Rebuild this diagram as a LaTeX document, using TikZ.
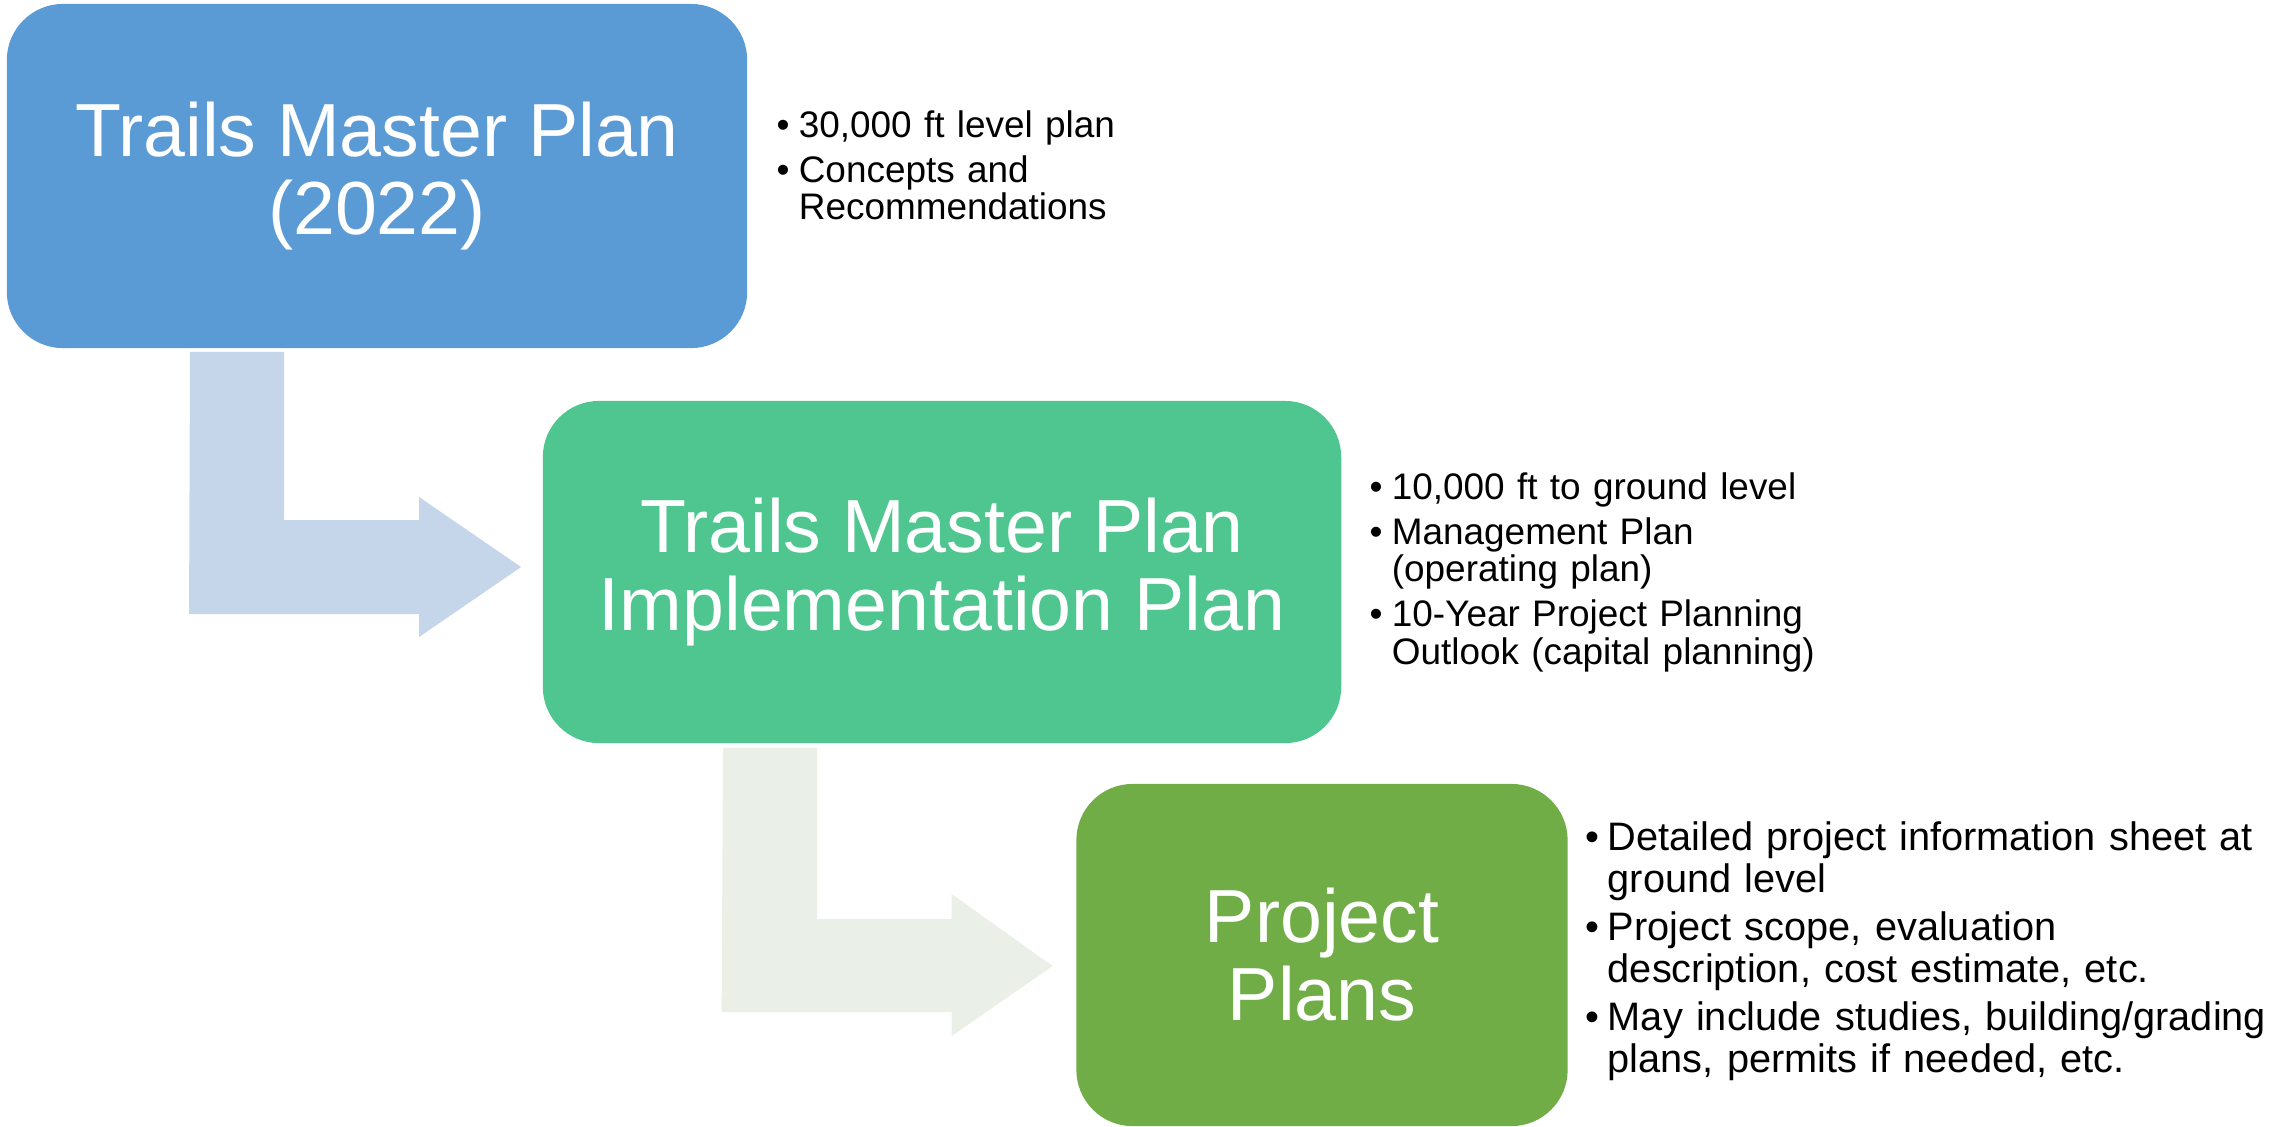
\documentclass[tikz,border=0pt]{standalone}
\usepackage{fontspec}
\setmainfont{Liberation Sans}
\usetikzlibrary{calc}

\definecolor{boxblue}{HTML}{5B9BD5}
\definecolor{boxteal}{HTML}{4FC68F}
\definecolor{boxgreen}{HTML}{70AD47}
\definecolor{arrowblue}{HTML}{C5D5EA}
\definecolor{arrowgrey}{HTML}{EAEFE7}

% Aufzaehlungspunkt mit haengendem Einzug
\newcommand{\bul}[1]{\hangindent=6.3pt\hangafter=1\noindent\makebox[6.3pt][l]{\textbullet}#1\par}

\begin{document}
\begin{tikzpicture}[x=0.01cm, y=-0.01cm,
	stage/.style={rounded corners=16pt, inner sep=0pt, text=white, align=center,
		font=\fontsize{21.4}{22.2}\selectfont},
	notes/.style={anchor=base west, inner sep=0pt, text width=9cm, align=left,
		font=\fontsize{10.5}{10.7}\selectfont, execute at begin node={\setlength{\parskip}{2.1pt}}},
	bignotes/.style={notes, font=\fontsize{11.3}{11.95}\selectfont,
		execute at begin node={\setlength{\parskip}{1.7pt}}}]
	\useasboundingbox (0,0) rectangle (2292,1126);
	% Kaesten
	\node (plan) at (377,176) [stage, fill=boxblue, minimum width=7.40cm, minimum height=3.44cm] {Trails Master Plan\\(2022)};
	\node (impl) at (942,572) [stage, fill=boxteal, minimum width=7.98cm, minimum height=3.42cm] {Trails Master Plan\\Implementation Plan};
	\node (proj) at (1322,955) [stage, fill=boxgreen, minimum width=4.91cm, minimum height=3.42cm] {Project\\Plans};
	% Pfeile
	\fill[arrowblue] ($(plan.south)+(-187,3)$) -- ++(94,0) |- ($(impl.west)+(-123,-52)$) -- ++(0,-23)
		-- ($(impl.west)+(-21,-5)$) -- ++(-102,70) -- ++(0,-23) -- ++(-230,0) -- cycle;
	\fill[arrowgrey] ($(impl.south)+(-219,4)$) -- ++(94,0) |- ($(proj.west)+(-124,-36)$) -- ++(0,-25)
		-- ($(proj.west)+(-23,11)$) -- ++(-101,70) -- ++(0,-24) -- ++(-230,0) -- cycle;
	% Stichpunkte
	\node (plannotes) at (776,137) [notes] {\bul{30,000 ft level plan}\bul{Concepts and\newline Recommendations}};
	\node (implnotes) at (1369,499) [notes] {\bul{10,000 ft to ground level}\bul{Management Plan\newline (operating plan)}\bul{10-Year Project Planning\newline Outlook (capital planning)}};
	\node (projnotes) at (1585,850) [bignotes] {\bul{Detailed project information sheet at\newline ground level}\bul{Project scope, evaluation\newline description, cost estimate, etc.}\bul{May include studies, building/grading\newline plans, permits if needed, etc.}};
\end{tikzpicture}
\end{document}
